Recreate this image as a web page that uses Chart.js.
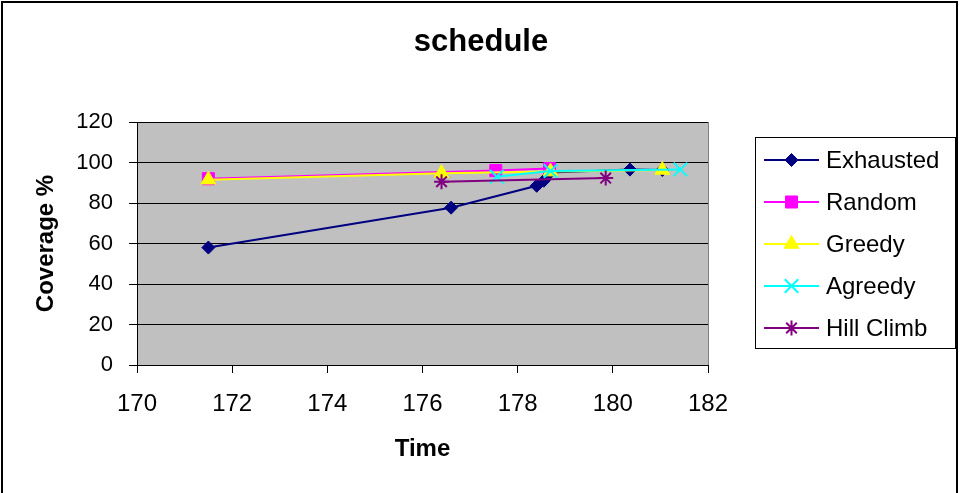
<!DOCTYPE html>
<html>
<head>
<meta charset="utf-8">
<script src="https://cdn.jsdelivr.net/npm/chart.js@4.4.1/dist/chart.umd.min.js"></script>
<style>
  html, body { margin: 0; padding: 0; background: #fff; }
  #wrap { width: 962px; height: 493px; position: relative; }
</style>
</head>
<body>
<div id="wrap"><canvas id="chart" width="962" height="493"></canvas></div>
<script>
// Coverage vs. time for each scheduling strategy
const seriesNames = ['Exhausted', 'Random', 'Greedy', 'Agreedy', 'Hill Climb'];

const exhaustedTime = [171.5, 176.6, 178.4, 178.55, 178.68, 180.36, 181.04];
const exhaustedCov  = [58, 77.7, 88.5, 91, 95, 96.5, 96.3];

const randomTime = [171.5, 177.54, 178.67];
const randomCov  = [92, 96, 97];

const greedyTime = [171.5, 176.4, 178.69, 181.04];
const greedyCov  = [91.5, 94.7, 95.5, 96.3];

const agreedyTime = [177.56, 178.69, 181.42];
const agreedyCov  = [93, 95.8, 96.6];

const hillTime = [176.4, 179.85];
const hillCov  = [90.5, 92.3];

const xTicks = [170, 172, 174, 176, 178, 180, 182];
const yTicks = [0, 20, 40, 60, 80, 100, 120];

const FONT = '"Liberation Sans", Arial, sans-serif';

const styles = [
  { color: '#000080', point: 'rectRot',  radius: 6.5, stroke: 1 },
  { color: '#FF00FF', point: 'rect',     radius: 8.5, stroke: 1 },
  { color: '#FFFF00', point: 'triangle', radius: 8.5, stroke: 1 },
  { color: '#00FFFF', point: 'crossRot', radius: 9.5, stroke: 2 },
  { color: '#800080', point: 'star',     radius: 7.5, stroke: 2 }
];

function pairs(xs, ys) { return xs.map((x, i) => ({ x: x, y: ys[i] })); }

const seriesData = [
  pairs(exhaustedTime, exhaustedCov),
  pairs(randomTime, randomCov),
  pairs(greedyTime, greedyCov),
  pairs(agreedyTime, agreedyCov),
  pairs(hillTime, hillCov)
];

const datasets = seriesNames.map((name, i) => ({
  label: name,
  data: seriesData[i],
  showLine: true,
  borderColor: styles[i].color,
  backgroundColor: styles[i].color,
  borderWidth: 2,
  pointStyle: styles[i].point,
  pointRadius: styles[i].radius,
  pointHoverRadius: styles[i].radius,
  pointBorderWidth: styles[i].stroke,
  pointBorderColor: styles[i].color,
  pointBackgroundColor: styles[i].color,
  tension: 0,
  // later series are painted over earlier ones
  order: seriesNames.length - i
}));

// Legend panel on the right, reserved as a layout box
const sideLegend = {
  id: 'sideLegend',
  beforeInit(chart) {
    const box = {
      position: 'right', weight: 1000, fullSize: false,
      options: {},
      left: 0, top: 0, right: 0, bottom: 0, width: 0, height: 0,
      isHorizontal() { return false; },
      update(maxWidth, maxHeight) { this.width = 254; this.height = maxHeight; },
      draw() {
        const ctx = chart.ctx;
        const bx = 755, by = 137, bw = 200, bh = 211;
        ctx.save();
        ctx.fillStyle = '#fff';
        ctx.fillRect(bx, by, bw, bh);
        ctx.strokeStyle = '#000';
        ctx.lineWidth = 1;
        ctx.strokeRect(bx + 0.5, by + 0.5, bw, bh);
        const rowY = [160, 202, 244, 286, 328];
        seriesNames.forEach((name, i) => {
          const y = rowY[i];
          const st = styles[i];
          ctx.strokeStyle = st.color;
          ctx.lineWidth = 2;
          ctx.beginPath();
          ctx.moveTo(764, y);
          ctx.lineTo(819, y);
          ctx.stroke();
          ctx.fillStyle = st.color;
          ctx.strokeStyle = st.color;
          ctx.lineWidth = st.stroke;
          Chart.helpers.drawPoint(ctx, { pointStyle: st.point, rotation: 0, radius: st.radius, borderWidth: st.stroke }, 791.5, y);
          ctx.fillStyle = '#000';
          ctx.font = '24px ' + FONT;
          ctx.textAlign = 'left';
          ctx.textBaseline = 'middle';
          ctx.fillText(name, 826, y + 1);
        });
        ctx.restore();
      }
    };
    Chart.layouts.addBox(chart, box);
  }
};

// Page frame and grey plot background
const frame = {
  id: 'frame',
  beforeDraw(chart) {
    const ctx = chart.ctx;
    const a = chart.chartArea;
    ctx.save();
    ctx.fillStyle = '#fff';
    ctx.fillRect(0, 0, chart.width, chart.height);
    ctx.strokeStyle = '#000';
    ctx.lineWidth = 2;
    ctx.strokeRect(2, 2, 955, 520);
    ctx.fillStyle = '#C0C0C0';
    ctx.fillRect(a.left, a.top, a.right - a.left, a.bottom - a.top);
    ctx.strokeStyle = '#808080';
    ctx.lineWidth = 1;
    ctx.strokeRect(Math.round(a.left) + 0.5, Math.round(a.top) + 0.5, a.right - a.left, a.bottom - a.top);
    ctx.restore();
  }
};

new Chart(document.getElementById('chart'), {
  type: 'scatter',
  data: { datasets: datasets },
  plugins: [frame, sideLegend],
  options: {
    responsive: false,
    animation: false,
    events: [],
    layout: { padding: 0 },
    plugins: {
      legend: { display: false },
      tooltip: { enabled: false },
      title: {
        display: true,
        text: 'schedule',
        color: '#000',
        font: { family: FONT, size: 31, weight: 'bold' },
        padding: { top: 24, bottom: 60.8 }
      }
    },
    scales: {
      x: {
        type: 'linear',
        min: xTicks[0],
        max: xTicks[xTicks.length - 1],
        afterBuildTicks(scale) { scale.ticks = xTicks.map(v => ({ value: v })); },
        afterFit(scale) { scale.height = 128; },
        grid: { drawOnChartArea: false, drawTicks: true, tickLength: 8, color: '#000' },
        border: { color: '#000', width: 1 },
        ticks: { color: '#000', font: { family: FONT, size: 24 }, padding: 17, maxRotation: 0 },
        title: {
          display: true, text: 'Time', color: '#000',
          font: { family: FONT, size: 24, weight: 'bold' },
          padding: { top: 0, bottom: 29 }
        }
      },
      y: {
        type: 'linear',
        min: yTicks[0],
        max: yTicks[yTicks.length - 1],
        afterBuildTicks(scale) { scale.ticks = yTicks.map(v => ({ value: v })); },
        afterFit(scale) { scale.width = 137; },
        grid: { drawTicks: true, tickLength: 8, color: '#000' },
        border: { color: '#000', width: 1 },
        ticks: { color: '#000', font: { family: FONT, size: 22 }, padding: 16 },
        title: {
          display: true, text: 'Coverage %', color: '#000',
          font: { family: FONT, size: 24, weight: 'bold' },
          padding: { top: 32, bottom: 0 }
        }
      }
    }
  }
});
</script>
</body>
</html>
